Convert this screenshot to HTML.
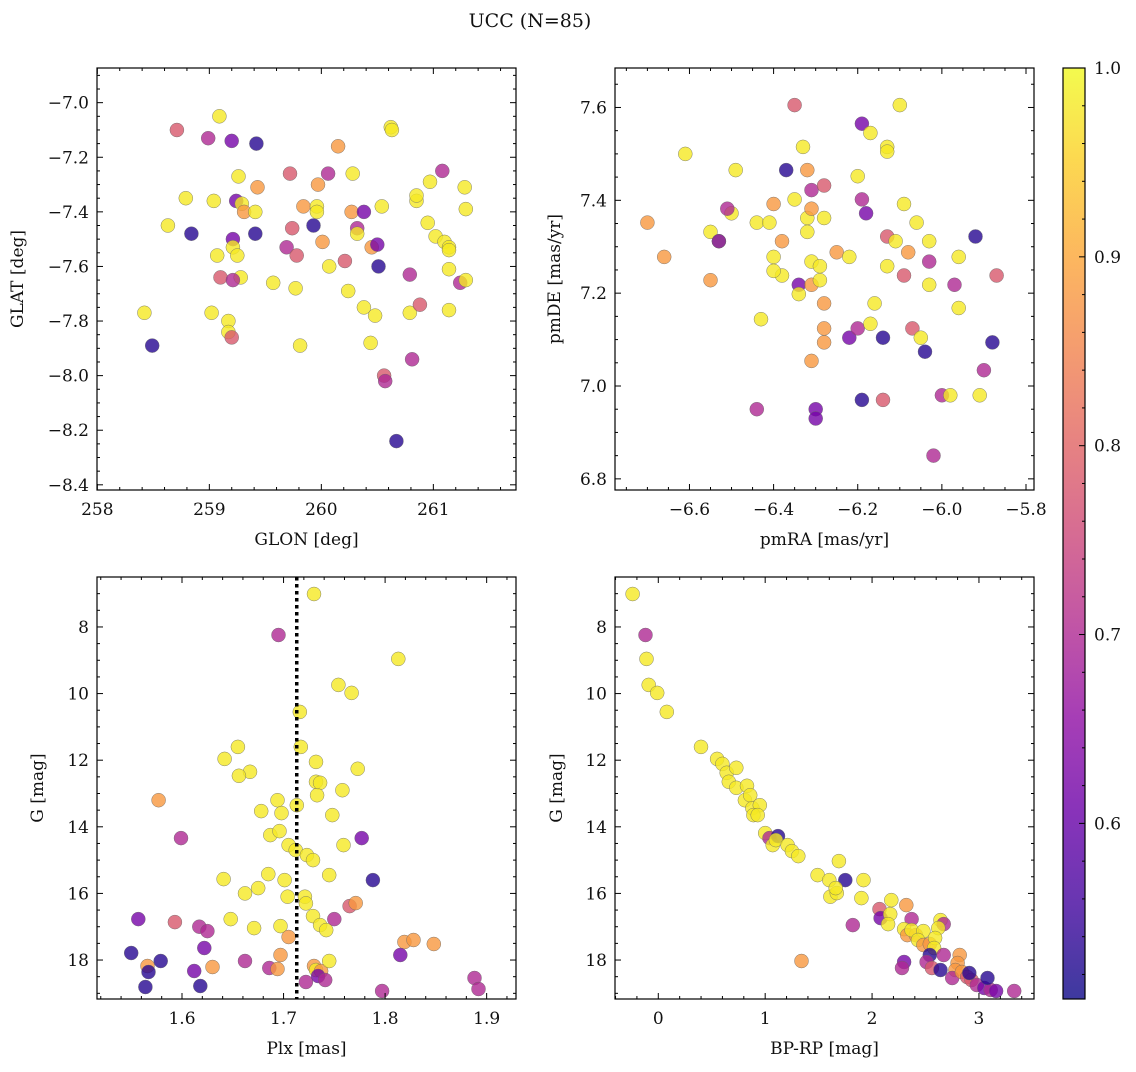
<!DOCTYPE html>
<html><head><meta charset="utf-8"><style>
body{margin:0;background:#fff;}
svg text{font-family:"DejaVu Serif","Liberation Serif",serif;fill:#111;}
</style></head><body>
<svg id="fig" width="1136" height="1067" xmlns="http://www.w3.org/2000/svg">
<text x="530" y="27" font-size="19" text-anchor="middle">UCC (N=85)</text>
<defs><linearGradient id="cbgrad" x1="0" y1="1" x2="0" y2="0"></linearGradient></defs>
</svg>
<script>
// ---- Panel 1: GLON vs GLAT ----
const glon1=[258.71,259.09,258.99,259.20,259.42,258.79,258.63,258.84,259.04,259.26,259.24,259.29,259.31,259.43,259.41,259.21,259.21,259.25,259.07,259.28,259.10,259.21,259.41,259.02,259.17,259.17,259.20,258.42,258.49,259.57,259.69,259.72,259.74,259.78,259.77,259.81,259.84,259.93,259.96,259.96,259.97,260.01,260.07,260.06,260.15,260.21,260.24,260.28,260.27,260.32,260.32,260.38,260.38,260.45,260.50,260.51,260.48,260.44,260.56,260.57,260.54,260.62,260.63,260.67,260.85,260.85,260.97,260.79,260.79,260.81,260.88,260.95,261.02,261.08,261.10,261.14,261.14,261.14,261.14,261.24,261.29,261.28,261.29];
const glat1=[-7.10,-7.05,-7.13,-7.14,-7.15,-7.35,-7.45,-7.48,-7.36,-7.27,-7.36,-7.37,-7.40,-7.31,-7.40,-7.50,-7.53,-7.56,-7.56,-7.64,-7.64,-7.65,-7.48,-7.77,-7.80,-7.84,-7.86,-7.77,-7.89,-7.66,-7.53,-7.26,-7.46,-7.56,-7.68,-7.89,-7.38,-7.45,-7.38,-7.40,-7.30,-7.51,-7.60,-7.26,-7.16,-7.58,-7.69,-7.26,-7.40,-7.46,-7.48,-7.40,-7.75,-7.53,-7.52,-7.60,-7.78,-7.88,-8.00,-8.02,-7.38,-7.09,-7.10,-8.24,-7.36,-7.34,-7.29,-7.63,-7.77,-7.94,-7.74,-7.44,-7.49,-7.25,-7.51,-7.53,-7.54,-7.61,-7.76,-7.66,-7.65,-7.31,-7.39];
const prob1=[0.78,0.98,0.70,0.62,0.53,0.98,0.98,0.53,0.98,0.98,0.62,0.98,0.88,0.88,0.98,0.62,0.98,0.98,0.98,0.98,0.78,0.70,0.53,0.98,0.98,0.98,0.78,0.98,0.53,0.98,0.70,0.78,0.78,0.78,0.98,0.98,0.88,0.53,0.98,0.98,0.88,0.88,0.98,0.70,0.88,0.78,0.98,0.98,0.88,0.70,0.98,0.62,0.98,0.88,0.62,0.53,0.98,0.98,0.78,0.70,0.98,0.98,0.98,0.53,0.98,0.98,0.98,0.70,0.98,0.70,0.78,0.98,0.98,0.70,0.98,0.98,0.98,0.98,0.98,0.70,0.98,0.98,0.98];
// ---- Panel 2: pmRA vs pmDE ----
const pmra2=[-6.61,-6.70,-6.66,-6.55,-6.53,-6.53,-6.55,-6.49,-6.50,-6.51,-6.44,-6.41,-6.40,-6.40,-6.38,-6.38,-6.40,-6.43,-6.44,-6.37,-6.35,-6.35,-6.34,-6.34,-6.33,-6.32,-6.32,-6.32,-6.31,-6.31,-6.31,-6.31,-6.31,-6.30,-6.30,-6.29,-6.28,-6.28,-6.29,-6.28,-6.28,-6.28,-6.25,-6.22,-6.22,-6.20,-6.20,-6.19,-6.19,-6.19,-6.18,-6.17,-6.17,-6.16,-6.14,-6.14,-6.13,-6.13,-6.13,-6.13,-6.11,-6.10,-6.09,-6.09,-6.08,-6.07,-6.06,-6.05,-6.04,-6.03,-6.03,-6.03,-6.02,-6.00,-5.98,-5.97,-5.96,-5.96,-5.92,-5.91,-5.90,-5.88,-5.87];
const pmde2=[7.50,7.352,7.278,7.332,7.312,7.312,7.228,7.465,7.372,7.382,7.352,7.352,7.392,7.278,7.312,7.238,7.248,7.144,6.95,7.465,7.605,7.402,7.218,7.198,7.515,7.362,7.332,7.465,7.268,7.382,7.218,7.422,7.054,6.95,6.93,7.258,7.432,7.362,7.228,7.178,7.124,7.094,7.288,7.278,7.104,7.452,7.124,7.402,7.565,6.97,7.372,7.545,7.134,7.178,7.104,6.97,7.515,7.505,7.322,7.258,7.312,7.605,7.392,7.238,7.288,7.124,7.352,7.104,7.074,7.268,7.218,7.312,6.85,6.98,6.98,7.218,7.278,7.168,7.322,6.98,7.034,7.094,7.238];
const prob2=[0.98,0.88,0.88,0.98,0.98,0.62,0.88,0.98,0.98,0.70,0.98,0.98,0.88,0.98,0.88,0.98,0.98,0.98,0.70,0.53,0.78,0.98,0.62,0.98,0.98,0.98,0.98,0.88,0.98,0.88,0.88,0.70,0.88,0.62,0.62,0.98,0.78,0.98,0.98,0.88,0.88,0.88,0.88,0.98,0.62,0.98,0.70,0.70,0.62,0.53,0.62,0.98,0.98,0.98,0.53,0.78,0.98,0.98,0.78,0.98,0.98,0.98,0.98,0.78,0.88,0.78,0.98,0.98,0.53,0.70,0.98,0.98,0.70,0.70,0.98,0.70,0.98,0.98,0.53,0.98,0.70,0.53,0.78];
// ---- Panel 3: Plx vs G ----
const plx3=[1.730,1.695,1.813,1.754,1.767,1.716,1.717,1.655,1.642,1.667,1.656,1.732,1.773,1.577,1.732,1.736,1.733,1.694,1.713,1.678,1.698,1.758,1.748,1.599,1.777,1.687,1.696,1.705,1.712,1.723,1.729,1.759,1.788,1.641,1.685,1.675,1.662,1.701,1.704,1.721,1.722,1.745,1.557,1.593,1.617,1.625,1.648,1.671,1.697,1.705,1.729,1.736,1.742,1.765,1.771,1.750,1.622,1.550,1.579,1.566,1.567,1.630,1.662,1.686,1.694,1.697,1.730,1.732,1.737,1.745,1.722,1.734,1.741,1.819,1.828,1.848,1.815,1.612,1.564,1.618,1.797,1.888,1.892];
const gmag3=[7.01,8.24,8.96,9.74,9.98,10.55,11.6,11.6,11.96,12.35,12.47,12.05,12.26,13.2,12.65,12.68,13.05,13.2,13.35,13.53,13.59,12.9,13.65,14.34,14.34,14.25,14.13,14.55,14.7,14.85,15.0,14.55,15.6,15.57,15.42,15.84,16.0,15.6,16.1,16.1,16.3,15.45,16.77,16.86,17.0,17.13,16.77,17.04,16.98,17.31,16.68,16.95,17.1,16.38,16.29,16.77,17.64,17.79,18.03,18.18,18.36,18.21,18.03,18.24,18.27,17.85,18.18,18.3,18.33,18.03,18.66,18.48,18.6,17.46,17.4,17.52,17.85,18.33,18.81,18.78,18.93,18.54,18.87];
const prob3=[0.98,0.70,0.98,0.98,0.98,0.98,0.98,0.98,0.98,0.98,0.98,0.98,0.98,0.88,0.98,0.98,0.98,0.98,0.98,0.98,0.98,0.98,0.98,0.70,0.62,0.98,0.98,0.98,0.98,0.98,0.98,0.98,0.53,0.98,0.98,0.98,0.98,0.98,0.98,0.98,0.98,0.98,0.62,0.78,0.70,0.70,0.98,0.98,0.98,0.88,0.98,0.98,0.98,0.78,0.88,0.70,0.62,0.53,0.53,0.88,0.53,0.88,0.70,0.70,0.88,0.88,0.88,0.98,0.88,0.98,0.70,0.62,0.70,0.88,0.88,0.88,0.62,0.62,0.53,0.53,0.70,0.70,0.70];
const plxLine=[1.713];
// ---- Panel 4: BP-RP vs G ----
const bprp4=[-0.24,-0.12,-0.11,-0.09,-0.01,0.08,0.40,0.55,0.60,0.64,0.73,0.66,0.73,0.81,0.83,0.86,0.88,0.95,0.89,0.93,1.00,1.04,1.07,1.12,1.10,1.21,1.25,1.31,1.49,1.60,1.75,1.92,1.69,1.61,1.67,1.66,1.90,2.07,2.08,2.18,2.17,2.15,2.32,2.37,2.30,2.33,2.41,2.37,2.48,2.43,2.48,2.54,2.64,2.67,2.62,2.59,2.58,2.54,2.67,2.51,2.56,2.30,2.28,2.82,2.80,2.78,2.75,2.84,2.89,2.93,2.98,3.05,3.11,3.08,2.91,3.16,3.33,1.82,1.34,2.64];
const gmag4=[7.01,8.24,8.96,9.74,9.98,10.55,11.6,11.96,12.11,12.38,12.23,12.65,12.83,13.2,12.77,13.05,13.44,13.35,13.65,13.65,14.19,14.34,14.55,14.28,14.4,14.55,14.73,14.88,15.45,15.6,15.6,15.6,15.03,16.1,15.99,15.84,16.14,16.47,16.74,16.2,16.62,16.92,16.35,16.77,17.07,17.25,17.25,17.1,17.13,17.4,17.55,17.52,16.8,16.92,17.04,17.34,17.64,17.85,17.85,18.06,18.24,18.06,18.24,17.85,18.09,18.3,18.54,18.36,18.51,18.6,18.75,18.84,18.9,18.54,18.39,18.93,18.93,16.95,18.03,18.3];
const prob4=[0.98,0.70,0.98,0.98,0.98,0.98,0.98,0.98,0.98,0.98,0.98,0.98,0.98,0.98,0.98,0.98,0.98,0.98,0.98,0.98,0.98,0.70,0.98,0.53,0.98,0.98,0.98,0.98,0.98,0.98,0.53,0.98,0.98,0.98,0.98,0.98,0.98,0.78,0.62,0.98,0.98,0.98,0.88,0.70,0.98,0.88,0.88,0.98,0.98,0.98,0.88,0.88,0.98,0.70,0.98,0.98,0.98,0.53,0.70,0.70,0.78,0.62,0.70,0.88,0.88,0.88,0.70,0.88,0.78,0.78,0.70,0.62,0.70,0.53,0.53,0.62,0.70,0.70,0.88,0.53];
// colorbar ticks
const cbTicks=[0.6,0.7,0.8,0.9,1.0];
const cbMin=0.507, cbMax=1.0;

const NS="http://www.w3.org/2000/svg";
const svg=document.getElementById('fig');
function mk(tag,attrs,parent){const e=document.createElementNS(NS,tag);for(const k in attrs)e.setAttribute(k,attrs[k]);(parent||svg).appendChild(e);return e;}
const stops=[[13,8,135],[65,4,157],[106,0,168],[143,13,164],[177,42,144],[204,71,120],[225,100,98],[242,132,75],[252,166,54],[252,206,37],[240,249,33]];
function plasma(t){t=Math.max(0,Math.min(1,t));const f=t*10,i=Math.min(9,Math.floor(f)),u=f-i;const a=stops[i],b=stops[i+1];return 'rgb('+[0,1,2].map(k=>Math.round(a[k]+(b[k]-a[k])*u)).join(',')+')';}
function cnorm(p){return (p-cbMin)/(cbMax-cbMin);}
const FS=17;

function panel(cfg,xs,ys,ps,name){
  const g=mk('g',{});
  
  
  const X=v=>cfg.L+(v-cfg.x0)/(cfg.x1-cfg.x0)*cfg.W;
  const Y=cfg.inv? (v=>cfg.T+(v-cfg.y0)/(cfg.y1-cfg.y0)*cfg.H) : (v=>cfg.T+(cfg.y1-v)/(cfg.y1-cfg.y0)*cfg.H);
  const pts=mk('g',{},g);
  
  
  for(let i=0;i<xs.length;i++){
    const c=mk('circle',{cx:X(xs[i]).toFixed(1),cy:Y(ys[i]).toFixed(1),r:7,fill:plasma(cnorm(ps[i])),'fill-opacity':0.8,stroke:'#666','stroke-width':0.5,'stroke-opacity':0.8},pts);
    
    
  }
  if(cfg.vline){cfg.vline.forEach(v=>{const l=mk('line',{x1:X(v),x2:X(v),y1:cfg.T,y2:cfg.T+cfg.H,stroke:'#000','stroke-width':3.5,'stroke-dasharray':'3.5,3.5'},g);
    
    });}
  const fr=mk('rect',{x:cfg.L,y:cfg.T,width:cfg.W,height:cfg.H,fill:'none',stroke:'#000','stroke-width':1.2},g);
  
  
  const tk=mk('g',{stroke:'#000','stroke-width':1},g);
  const eps=1e-9;
  for(let v=Math.ceil(cfg.x0/cfg.xmn-eps)*cfg.xmn;v<=cfg.x1+eps;v+=cfg.xmn){
    const isMaj=Math.abs(v/cfg.xmj-Math.round(v/cfg.xmj))<1e-6; const len=isMaj?6:3; const x=X(v);
    mk('line',{x1:x,x2:x,y1:cfg.T+cfg.H,y2:cfg.T+cfg.H-len},tk); mk('line',{x1:x,x2:x,y1:cfg.T,y2:cfg.T+len},tk);
    if(isMaj){const t=mk('text',{x:x,y:cfg.T+cfg.H+25,'font-size':FS,'text-anchor':'middle'},g);t.textContent=(Math.round(v/cfg.xmj)*cfg.xmj).toFixed(cfg.xd).replace('-','−');
      
      }
  }
  const ylo=Math.min(cfg.y0,cfg.y1),yhi=Math.max(cfg.y0,cfg.y1);
  for(let v=Math.ceil(ylo/cfg.ymn-eps)*cfg.ymn;v<=yhi+eps;v+=cfg.ymn){
    const isMaj=Math.abs(v/cfg.ymj-Math.round(v/cfg.ymj))<1e-6; const len=isMaj?6:3; const y=Y(v);
    mk('line',{x1:cfg.L,x2:cfg.L+len,y1:y,y2:y},tk); mk('line',{x1:cfg.L+cfg.W,x2:cfg.L+cfg.W-len,y1:y,y2:y},tk);
    if(isMaj){const t=mk('text',{x:cfg.L-8,y:y+6,'font-size':FS,'text-anchor':'end'},g);t.textContent=(Math.round(v/cfg.ymj)*cfg.ymj).toFixed(cfg.yd).replace('-','−');
      
      }
  }
  const xl=mk('text',{x:cfg.L+cfg.W/2,y:cfg.T+cfg.H+55,'font-size':FS,'text-anchor':'middle'},g);xl.textContent=cfg.xlab;
  
  
  const yl=mk('text',{x:cfg.ylx,y:cfg.T+cfg.H/2,'font-size':FS,'text-anchor':'middle',transform:'rotate(-90 '+cfg.ylx+' '+(cfg.T+cfg.H/2)+')'},g);yl.textContent=cfg.ylab;
  
  
}
panel({L:97,T:68,W:419,H:422,x0:257.997,x1:261.738,y0:-8.419,y1:-6.873,xmj:1,xmn:0.2,ymj:0.2,ymn:0.05,xd:0,yd:1,xlab:'GLON [deg]',ylab:'GLAT [deg]',ylx:23},glon1,glat1,prob1,'glon-glat-panel');
panel({L:615,T:68,W:419,H:422,x0:-6.777,x1:-5.781,y0:6.776,y1:7.685,xmj:0.2,xmn:0.05,ymj:0.2,ymn:0.05,xd:1,yd:1,xlab:'pmRA [mas/yr]',ylab:'pmDE [mas/yr]',ylx:560},pmra2,pmde2,prob2,'pm-panel');
panel({L:97,T:577,W:419,H:422,x0:1.5163,x1:1.9289,y0:6.50,y1:19.17,inv:true,xmj:0.1,xmn:0.02,ymj:2,ymn:0.5,xd:1,yd:0,xlab:'Plx [mas]',ylab:'G [mag]',ylx:43,vline:plxLine},plx3,gmag3,prob3,'plx-g-panel');
panel({L:615,T:577,W:419,H:422,x0:-0.405,x1:3.515,y0:6.50,y1:19.17,inv:true,xmj:1,xmn:0.2,ymj:2,ymn:0.5,xd:0,yd:0,xlab:'BP-RP [mag]',ylab:'G [mag]',ylx:562},bprp4,gmag4,prob4,'cmd-panel');

// colorbar
const grad=document.getElementById('cbgrad');
for(let i=0;i<=20;i++){const t=i/20;mk('stop',{offset:t,'stop-color':plasma(t),'stop-opacity':0.8},grad);}
const cb=mk('g',{});


mk('rect',{x:1063,y:68,width:22,height:931,fill:'url(#cbgrad)'},cb);
mk('rect',{x:1063,y:68,width:22,height:931,fill:'none',stroke:'#000','stroke-width':1.2},cb);
const CY=v=>68+(cbMax-v)/(cbMax-cbMin)*931;
for(let v=0.52;v<=1.0001;v+=0.02){const y=CY(v);const maj=Math.abs(v*10-Math.round(v*10))<1e-6;mk('line',{x1:1085,x2:1085-(maj?6:3),y1:y,y2:y,stroke:'#000','stroke-width':1},cb);}
cbTicks.forEach(v=>{const t=mk('text',{x:1094,y:CY(v)+6,'font-size':FS},cb);t.textContent=v.toFixed(1);
  
  });
</script>
</body></html>
